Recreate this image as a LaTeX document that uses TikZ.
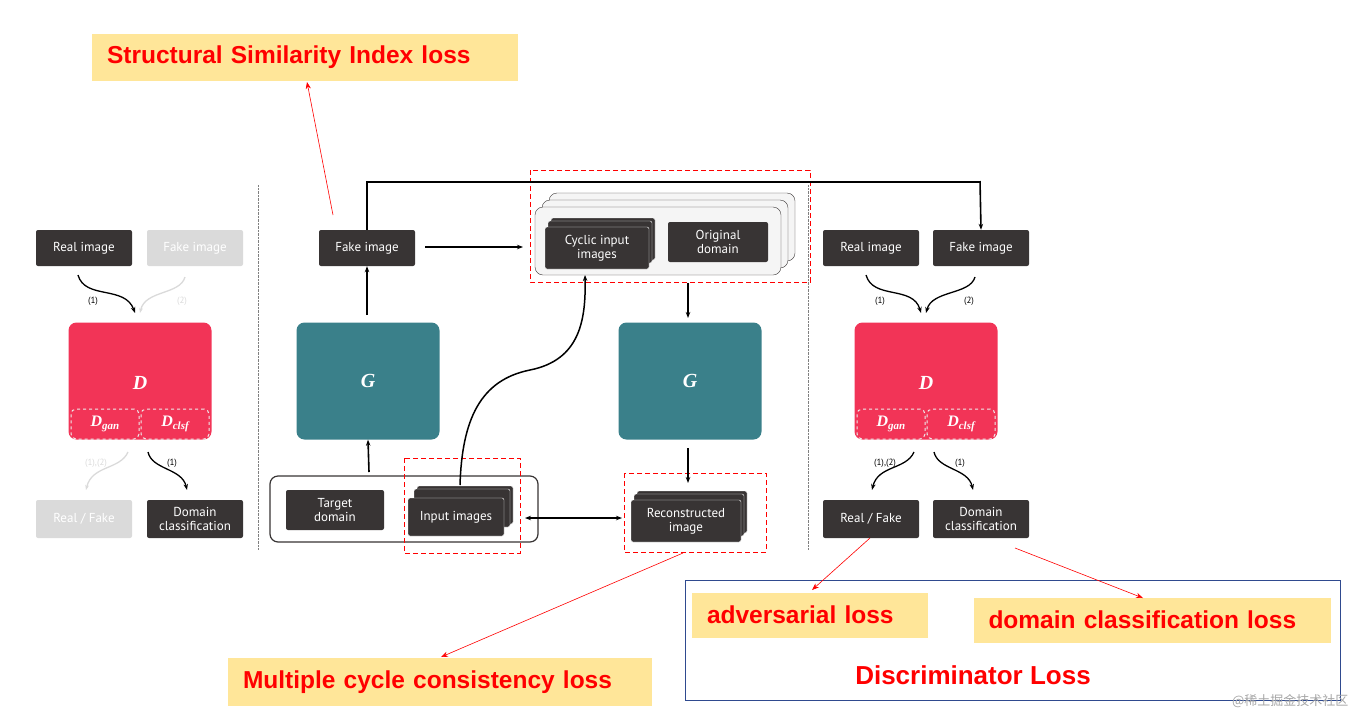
\documentclass[tikz,border=0pt]{standalone}
\usepackage{fontspec}
\setmainfont{Liberation Sans}
\newfontfamily\ptsans{PT Sans}
\newfontfamily\serifit{Liberation Serif}
\newfontfamily\cjk{Noto Sans CJK SC}
\usetikzlibrary{arrows.meta}
\definecolor{dk}{HTML}{383434}
\definecolor{lg}{HTML}{DADADA}
\definecolor{dred}{HTML}{F23457}
\definecolor{teal}{HTML}{3A808A}
\definecolor{yel}{HTML}{FFE699}
\definecolor{bl}{HTML}{2F4A8F}
\begin{document}
\begin{tikzpicture}[x=1pt,y=-1pt,
 bx/.style={fill=dk,rounded corners=2pt,text=white,font=\ptsans\fontsize{13}{14}\selectfont,align=center,inner sep=0pt},
 gbx/.style={bx,fill=lg,text=white},
 big/.style={rounded corners=8pt,text=white,font=\serifit\bfseries\itshape\fontsize{20}{20}\selectfont},
 sub/.style={draw=white!85!gray,dashed,line width=1pt,rounded corners=5pt,text=white,font=\serifit\itshape\bfseries\fontsize{16}{16}\selectfont},
 ar/.style={-{Stealth[length=6pt]},line width=1.6pt},
 lab/.style={fill=yel,text=red,font=\bfseries\fontsize{24.5}{26}\selectfont,inner xsep=15pt,inner ysep=0pt,text width=#1,align=left},
 ra/.style={red,-{Stealth[length=7pt]},line width=0.6pt},
 rd/.style={red,dashed,line width=1pt,dash pattern=on 5pt off 3pt},
 sm/.style={font=\ptsans\fontsize{9}{9}\selectfont}]
\useasboundingbox (0,0) rectangle (1356,718);
% title
\node[lab=396pt,minimum height=47pt] (ssim) at (305,57) {Structural Similarity Index loss};
% separators
\draw[gray,densely dotted] (258,185) -- (258,550);
\draw[gray,densely dotted] (808,185) -- (808,550);
% left panel
\node[bx,minimum width=96pt,minimum height=36pt] (lr) at (84,248) {Real image};
\node[gbx,minimum width=96pt,minimum height=36pt] (lf) at (195,248) {Fake image};
\node[big,fill=dred,minimum width=143pt,minimum height=117pt] (ld) at (140,381) {};
\node[big] at (140,383) {D};
\node[sub,minimum width=68pt,minimum height=30pt] (ldg) at (105,424) {D\raisebox{-3pt}{\fontsize{11}{11}\selectfont gan}};
\node[sub,minimum width=68pt,minimum height=30pt] (ldc) at (175,424) {D\raisebox{-3pt}{\fontsize{11}{11}\selectfont clsf}};
\node[gbx,minimum width=96pt,minimum height=38pt] (lrf) at (84,519) {Real / Fake};
\node[bx,minimum width=96pt,minimum height=38pt] (ldcl) at (195,519) {Domain\\classification};
\draw[ar,line width=1.3pt] (78,275) .. controls (85,300) and (125,285) .. (135,313);
\draw[-{Stealth[length=5pt]},line width=1.3pt,lg] (185,277) .. controls (180,295) and (145,290) .. (140,313);
\node[sm] at (93,301) {(1)};
\node[sm,lg] at (182,301) {(2)};
\draw[-{Stealth[length=5pt]},line width=1.3pt,lg] (128,452) .. controls (120,470) and (92,465) .. (86,490);
\draw[ar,line width=1.3pt] (148,452) .. controls (152,470) and (182,468) .. (187,490);
\node[sm,lg] at (96,463) {(1),(2)};
\node[sm] at (172,463) {(1)};
% center
\node[bx,minimum width=96pt,minimum height=36pt] (cf) at (367,248) {Fake image};
\node[big,fill=teal,minimum width=143pt,minimum height=117pt] (g1) at (368,381) {G};
\node[draw=dk,line width=1.2pt,fill=white,rounded corners=8pt,minimum width=268pt,minimum height=66pt] (cont) at (404,509) {};
\node[bx,minimum width=98pt,minimum height=40pt] (td) at (335,510) {Target\\domain};
\foreach \d in {6,3}{\node[bx,draw=white,minimum width=96pt,minimum height=38pt] at (459+\d,511-\d) {};}
\node[bx,draw=white,minimum width=96pt,minimum height=38pt] (ii) at (456,517) {Input images};
\draw[rd] (404,458) rectangle (520,553);
% cyclic
\foreach \d in {14,7}{\node[draw=dk,fill=gray!8,rounded corners=8pt,minimum width=246pt,minimum height=68pt] at (658+\d,241-\d) {};}
\node[draw=dk,fill=gray!8,rounded corners=8pt,minimum width=246pt,minimum height=68pt] (cyc) at (658,241) {};
\foreach \d in {6,3}{\node[bx,draw=white,minimum width=104pt,minimum height=42pt] at (597+\d,245-\d) {};}
\node[bx,draw=white,minimum width=104pt,minimum height=42pt] (ci) at (597,248) {Cyclic input\\images};
\node[bx,minimum width=100pt,minimum height=40pt] (od) at (718,242) {Original\\domain};
\draw[rd] (530,170) rectangle (810,282);
\node[big,fill=teal,minimum width=143pt,minimum height=117pt] (g2) at (690,381) {G};
\foreach \d in {6,3}{\node[bx,draw=white,minimum width=110pt,minimum height=42pt] at (686+\d,518-\d) {};}
\node[bx,draw=white,minimum width=110pt,minimum height=42pt] (rec) at (686,521) {Reconstructed\\image};
\draw[rd] (624,473) rectangle (766,552);
% center arrows
\draw[ar] (367,315) -- (cf.south);
\draw[ar] (369,472) -- (g1.south);
\draw[ar] (425,247) -- (523,247);
\draw[line width=1.5pt,-{Stealth[length=6pt]}] (460,485) .. controls (462,420) and (480,380) .. (530,370) .. controls (580,360) and (586,320) .. (585,275);
\draw[ar] (688,283) -- (688,318);
\draw[ar] (688,448) -- (688,483);
\draw[{Stealth[length=6pt]}-{Stealth[length=6pt]},line width=1.6pt] (525,518) -- (622,518);
\draw[line width=2pt] (cf.north) -- (367,182) -- (980,182);
% right panel
\node[bx,minimum width=96pt,minimum height=36pt] (rr) at (871,248) {Real image};
\node[bx,minimum width=96pt,minimum height=36pt] (rf) at (981,248) {Fake image};
\draw[ar] (980,181) -- (rf.north);
\node[big,fill=dred,minimum width=143pt,minimum height=117pt] (rd) at (926,381) {};
\node[big] at (926,383) {D};
\node[sub,minimum width=68pt,minimum height=30pt] at (891,424) {D\raisebox{-3pt}{\fontsize{11}{11}\selectfont gan}};
\node[sub,minimum width=68pt,minimum height=30pt] at (961,424) {D\raisebox{-3pt}{\fontsize{11}{11}\selectfont clsf}};
\node[bx,minimum width=96pt,minimum height=38pt] (rrf) at (871,519) {Real / Fake};
\node[bx,minimum width=96pt,minimum height=38pt] (rdc) at (981,519) {Domain\\classification};
\draw[ar,line width=1.3pt] (866,275) .. controls (873,300) and (913,285) .. (921,313);
\draw[ar,line width=1.3pt] (975,277) .. controls (970,295) and (932,290) .. (926,313);
\node[sm] at (880,301) {(1)};
\node[sm] at (969,301) {(2)};
\draw[ar,line width=1.3pt] (914,452) .. controls (906,470) and (878,465) .. (872,490);
\draw[ar,line width=1.3pt] (934,452) .. controls (938,470) and (968,468) .. (973,490);
\node[sm] at (885,463) {(1),(2)};
\node[sm] at (960,463) {(1)};
% loss boxes
\draw[bl,line width=1pt] (685,580) rectangle (1340,700);
\node[lab=206pt,minimum height=45pt] (adv) at (810,615) {adversarial loss};
\node[lab=327pt,minimum height=45pt] (dcl) at (1152,620) {domain classification loss};
\node[text=red,font=\bfseries\fontsize{26}{26}\selectfont] (disc) at (973,675) {Discriminator Loss};
\node[lab=394pt,minimum height=48pt] (mcl) at (440,682) {Multiple cycle consistency loss};
\draw[ra] (333,215) -- (307,82);
\draw[ra] (683,553) -- (441,657);
\draw[ra] (870,538) -- (812,590);
\draw[ra] (1015,548) -- (1143,598);
\node[gray!70,font=\cjk\fontsize{13}{13}\selectfont,anchor=east] (wm) at (1352,701) {@稀土掘金技术社区};
\end{tikzpicture}
\end{document}
